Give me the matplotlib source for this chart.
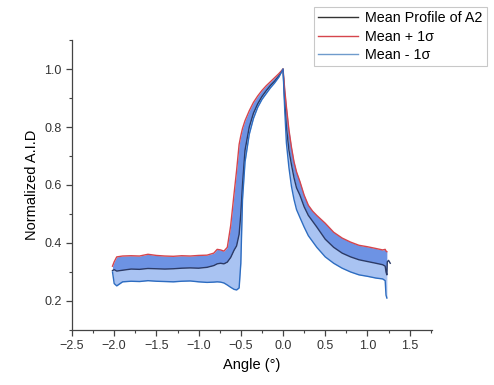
import matplotlib
matplotlib.use("Agg")
import matplotlib.pyplot as plt
from matplotlib.ticker import MultipleLocator

plt.rcParams['font.family'] = ['Liberation Sans', 'DejaVu Sans']

# angle values (deg) shared by the three profiles
angle = [-2.02, -2.0, -1.97, -1.9, -1.8, -1.7, -1.6, -1.5, -1.4, -1.3, -1.2, -1.1,
         -1.0, -0.9, -0.82, -0.78, -0.74, -0.70, -0.66, -0.62, -0.58, -0.55, -0.52,
         -0.50, -0.48, -0.45, -0.40, -0.35, -0.30, -0.25, -0.20, -0.15, -0.10, -0.05,
         0.0, 0.02, 0.04, 0.07, 0.10, 0.13, 0.16, 0.20, 0.25, 0.30, 0.35, 0.40, 0.50,
         0.60, 0.70, 0.80, 0.90, 1.00, 1.10, 1.18, 1.21, 1.22, 1.23]

upper = [0.32, 0.335, 0.352, 0.355, 0.356, 0.355, 0.361, 0.357, 0.355, 0.354, 0.356, 0.355,
         0.357, 0.358, 0.365, 0.378, 0.376, 0.372, 0.385, 0.46, 0.57, 0.65, 0.74,
         0.77, 0.795, 0.822, 0.856, 0.885, 0.907, 0.926, 0.942, 0.956, 0.97, 0.984,
         1.0, 0.93, 0.87, 0.79, 0.73, 0.68, 0.645, 0.612, 0.565, 0.53, 0.51, 0.495, 0.468,
         0.437, 0.417, 0.403, 0.392, 0.387, 0.381, 0.376, 0.378, 0.372, 0.37]

mean = [0.305, 0.308, 0.303, 0.306, 0.31, 0.309, 0.312, 0.311, 0.31, 0.311, 0.313, 0.314,
        0.313, 0.316, 0.322, 0.328, 0.33, 0.328, 0.334, 0.35, 0.375, 0.39, 0.43,
        0.50, 0.60, 0.72, 0.80, 0.848, 0.88, 0.905, 0.925, 0.943, 0.958, 0.976,
        1.0, 0.89, 0.80, 0.72, 0.67, 0.625, 0.59, 0.565, 0.525, 0.495, 0.475, 0.455, 0.413,
        0.385, 0.365, 0.352, 0.342, 0.336, 0.33, 0.325, 0.32, 0.30, 0.29]

lower = [0.30, 0.26, 0.252, 0.266, 0.268, 0.267, 0.27, 0.268, 0.267, 0.266, 0.268, 0.269,
         0.266, 0.264, 0.265, 0.266, 0.265, 0.262, 0.255, 0.247, 0.24, 0.238, 0.245,
         0.33, 0.55, 0.68, 0.775, 0.83, 0.868, 0.895, 0.915, 0.935, 0.952, 0.972,
         1.0, 0.86, 0.745, 0.66, 0.595, 0.55, 0.515, 0.488, 0.455, 0.425, 0.405, 0.385, 0.352,
         0.33, 0.313, 0.30, 0.29, 0.285, 0.279, 0.276, 0.27, 0.22, 0.21]

# small hook at the end of the mean profile
tail_angle = [1.23, 1.235, 1.25, 1.27]
tail_mean = [0.29, 0.335, 0.34, 0.33]

fig = plt.figure(figsize=(4.94, 3.85), dpi=100)
ax = fig.add_axes([0.1457, 0.143, 0.728, 0.753])

ax.fill_between(angle, mean, upper, color='#6d93e4', linewidth=0)
ax.fill_between(angle, lower, mean, color='#a9c3f2', linewidth=0)

ax.plot(angle + tail_angle[1:], mean + tail_mean[1:], color='#2b3a66', lw=1.0,
        label='Mean Profile of A2')
ax.plot(angle, upper, color='#d6454c', lw=1.0, label='Mean + 1σ')
ax.plot(angle, lower, color='#2d6cc0', lw=1.0, label='Mean - 1σ')

ax.set_xlim(-2.5, 1.76)
ax.set_ylim(0.1, 1.1)
ax.xaxis.set_major_locator(MultipleLocator(0.5))
ax.xaxis.set_minor_locator(MultipleLocator(0.25))
ax.yaxis.set_major_locator(MultipleLocator(0.2))
ax.yaxis.set_minor_locator(MultipleLocator(0.1))
ax.set_yticks([0.2, 0.4, 0.6, 0.8, 1.0])

for s in ['top', 'right']:
    ax.spines[s].set_visible(False)
for s in ['left', 'bottom']:
    ax.spines[s].set_color('#444444')
    ax.spines[s].set_linewidth(0.9)

ax.tick_params(which='major', direction='out', length=4, width=0.9, color='#444444',
               labelsize=9, labelcolor='#333333')
ax.tick_params(which='minor', direction='out', length=2.5, width=0.8, color='#444444')

ax.set_xlabel('Angle (°)', fontsize=10.5)
ax.set_ylabel('Normalized A.I.D', fontsize=10.5)

# legend lines with grey-ish colours as in the original
leg = fig.legend(handles=ax.get_lines(), loc='upper right', bbox_to_anchor=(1.0, 1.0),
                 fontsize=10.3, frameon=True, fancybox=False, handlelength=2.8,
                 borderpad=0.3, labelspacing=0.3, handletextpad=0.5)
leg.get_frame().set_edgecolor('#bbbbbb')
leg.get_frame().set_linewidth(0.8)
leg.get_lines()[0].set_color('#333333')
leg.get_lines()[2].set_color('#6f9bcc')

fig.savefig('out.png', dpi=100)
